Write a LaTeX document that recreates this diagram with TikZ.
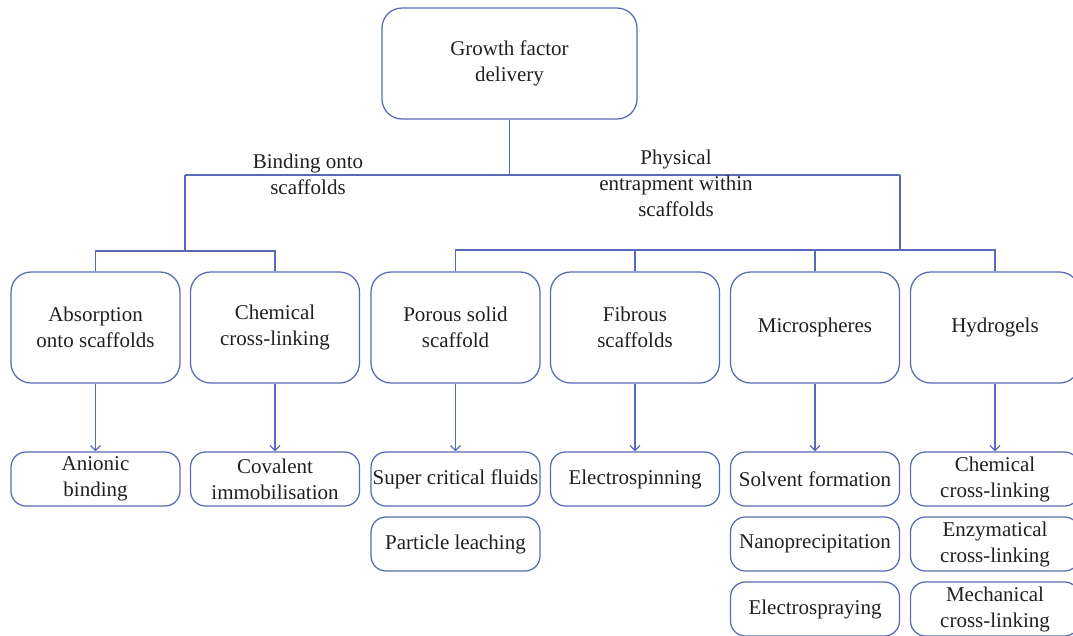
\documentclass[tikz,border=0pt]{standalone}
\usepackage{fontspec}
\setmainfont{Liberation Serif}
\usetikzlibrary{arrows.meta}
\definecolor{lineblue}{RGB}{88,106,180}
\definecolor{txt}{RGB}{35,31,32}
\begin{document}
\begin{tikzpicture}[x=1pt,y=-1pt,
  every node/.style={text=txt,font=\fontsize{21}{26}\selectfont,align=center,inner sep=0pt},
  bigbox/.style={draw=lineblue,line width=1.25pt,rounded corners=20pt,minimum width=169pt,minimum height=111pt},
  topbox/.style={bigbox,minimum width=255pt},
  smallbox/.style={draw=lineblue,line width=1.25pt,rounded corners=15pt,minimum width=169pt,minimum height=54pt},
  conn/.style={draw=lineblue,line width=1.25pt},
  arr/.style={conn,-{Straight Barb[length=5pt,width=10pt]}}
]
\useasboundingbox (0,0) rectangle (1073,635);
\node[topbox] (top) at (509.5,63.5) {Growth factor\\delivery};
\node[bigbox] (a1) at (95.5,327.5) {Absorption\\onto scaffolds};
\node[bigbox] (a2) at (275,327.5) {Chemical\\cross-linking};
\node[bigbox] (b1) at (455.5,327.5) {Porous solid\\scaffold};
\node[bigbox] (b2) at (635,327.5) {Fibrous\\scaffolds};
\node[bigbox] (b3) at (815,327.5) {Microspheres};
\node[bigbox] (b4) at (995,327.5) {Hydrogels};

\node[smallbox] (a1s) at (95.5,479) {Anionic\\binding};
\node[smallbox] (a2s) at (275,479) {Covalent\\immobilisation};
\node[smallbox] (b1s) at (455.5,479) {Super critical fluids};
\node[smallbox] (b1t) at (455.5,544) {Particle leaching};
\node[smallbox] (b2s) at (635,479) {Electrospinning};
\node[smallbox] (b3s) at (815,479) {Solvent formation};
\node[smallbox] (b3t) at (815,544) {Nanoprecipitation};
\node[smallbox] (b3u) at (815,609) {Electrospraying};
\node[smallbox] (b4s) at (995,479) {Chemical\\cross-linking};
\node[smallbox] (b4t) at (995,544) {Enzymatical\\cross-linking};
\node[smallbox] (b4u) at (995,609) {Mechanical\\cross-linking};

\coordinate (j0) at (509.5,175);
\coordinate (jl) at (185,175);
\coordinate (jr) at (900,175);
\coordinate (jl2) at (185,251);
\coordinate (jr2) at (900,250);

\draw[conn] (top.south) -- (j0);
\draw[conn] (jl) -- (jr);
\draw[conn] (jl) -- (jl2);
\draw[conn] (jr) -- (jr2);
\draw[conn] (a1.north) |- (jl2) -| (a2.north);
\draw[conn] (b1.north) |- (jr2) -| (b4.north);
\draw[conn] (b2.north) -- (b2.north |- jr2);
\draw[conn] (b3.north) -- (b3.north |- jr2);

\draw[arr] (a1.south) -- (a1s.north);
\draw[arr] (a2.south) -- (a2s.north);
\draw[arr] (b1.south) -- (b1s.north);
\draw[arr] (b2.south) -- (b2s.north);
\draw[arr] (b3.south) -- (b3s.north);
\draw[arr] (b4.south) -- (b4s.north);

\node (lb) at (308,174) {Binding onto\\scaffolds};
\node (lp) at (676,183) {Physical\\entrapment within\\scaffolds};
\end{tikzpicture}
\end{document}
